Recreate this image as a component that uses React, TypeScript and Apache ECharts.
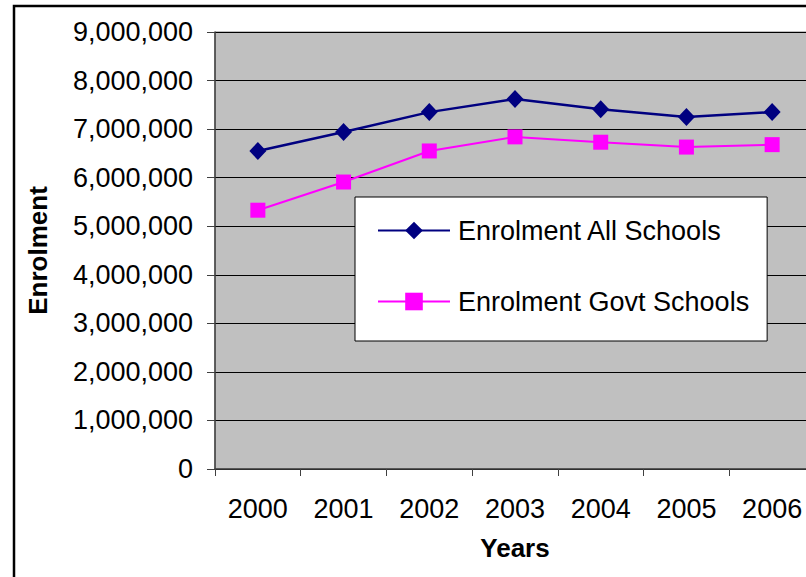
import React, { useEffect, useRef } from "react";
import * as echarts from "echarts";

const years = ["2000", "2001", "2002", "2003", "2004", "2005", "2006"];
const allSchools = [6550000, 6940000, 7350000, 7620000, 7410000, 7250000, 7350000];
const govtSchools = [5330000, 5910000, 6550000, 6840000, 6730000, 6630000, 6680000];
const seriesNames = ["Enrolment All Schools", "Enrolment Govt Schools"];

const FONT = "'Liberation Sans', Arial, sans-serif";

export default function App() {
  const ref = useRef<HTMLDivElement>(null);
  useEffect(() => {
    document.body.style.margin = "0";
    document.body.style.overflow = "hidden";
    const chart = echarts.init(ref.current!, null, { renderer: "svg" });
    chart.setOption({
      animation: false,
      backgroundColor: "#ffffff",
      textStyle: { fontFamily: FONT },
      graphic: [
        {
          type: "rect",
          shape: { x: 14, y: 6, width: 900, height: 700 },
          style: { fill: "none", stroke: "#000", lineWidth: 2.5 },
          z: 100,
        },
      ],
      grid: {
        left: 215,
        top: 32,
        width: 600,
        height: 437,
        show: true,
        backgroundColor: "#c0c0c0",
        borderColor: "#808080",
        borderWidth: 1,
      },
      legend: {
        orient: "vertical",
        left: 355,
        top: 197,
        backgroundColor: "#ffffff",
        borderColor: "#000",
        borderWidth: 1,
        borderRadius: 0,
        padding: [20, 18, 26, 22],
        itemWidth: 72,
        itemHeight: 22,
        itemGap: 44,
        textStyle: {
          fontSize: 27,
          color: "#000",
          fontFamily: FONT,
          lineHeight: 26,
          padding: [0, 0, 0, 3],
        },
        data: seriesNames,
      },
      xAxis: {
        type: "category",
        data: years,
        boundaryGap: true,
        name: "Years",
        nameLocation: "middle",
        nameGap: 66,
        nameTextStyle: { fontSize: 26, fontWeight: "bold", color: "#000", fontFamily: FONT },
        axisLine: { show: true, lineStyle: { color: "#404040", width: 1.5 } },
        axisTick: { show: true, length: 7, lineStyle: { color: "#404040" } },
        axisLabel: { fontSize: 27, color: "#000", margin: 26, fontFamily: FONT },
        splitLine: { show: false },
      },
      yAxis: {
        type: "value",
        min: 0,
        max: 9000000,
        interval: 1000000,
        name: "Enrolment",
        nameLocation: "middle",
        nameRotate: 90,
        nameGap: 164,
        nameTextStyle: { fontSize: 26, fontWeight: "bold", color: "#000", fontFamily: FONT },
        axisLine: { show: true, lineStyle: { color: "#404040", width: 1.5 } },
        axisTick: { show: true, length: 8, lineStyle: { color: "#404040" } },
        axisLabel: {
          fontSize: 27,
          color: "#000",
          margin: 22,
          fontFamily: FONT,
          formatter: (v: number) => v.toLocaleString("en-US"),
        },
        splitLine: { show: true, lineStyle: { color: "#000", width: 1 } },
      },
      series: [
        {
          name: seriesNames[0],
          type: "line",
          data: allSchools,
          symbol: "diamond",
          symbolSize: [17, 18],
          lineStyle: { color: "#000080", width: 2.5 },
          itemStyle: { color: "#000080" },
        },
        {
          name: seriesNames[1],
          type: "line",
          data: govtSchools,
          symbol: "rect",
          symbolSize: 15,
          lineStyle: { color: "#ff00ff", width: 2 },
          itemStyle: { color: "#ff00ff" },
        },
      ],
    });
    return () => chart.dispose();
  }, []);
  return (
    <div style={{ position: "fixed", left: 0, top: 0, width: 806, height: 577, overflow: "hidden" }}>
      <div ref={ref} style={{ width: 840, height: 600 }} />
    </div>
  );
}
